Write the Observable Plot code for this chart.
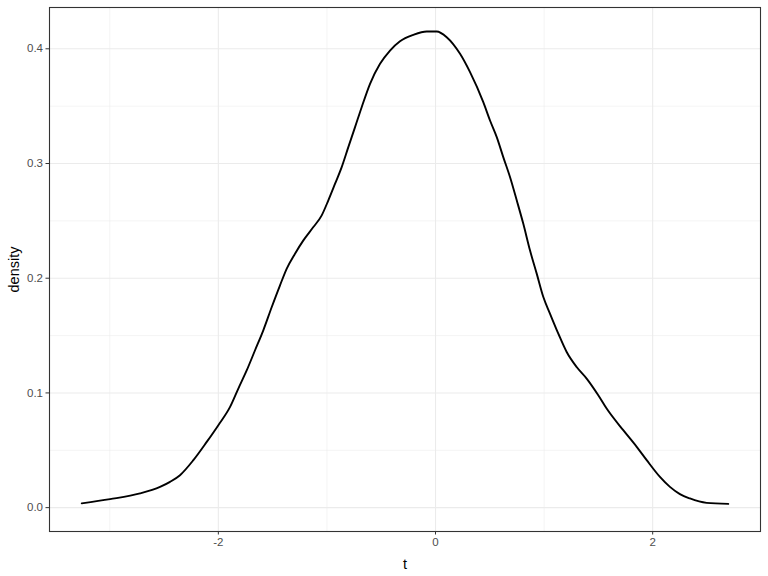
<!DOCTYPE html>
<html>
<head>
<meta charset="utf-8">
<script src="https://cdn.jsdelivr.net/npm/d3@7"></script>
<script src="https://cdn.jsdelivr.net/npm/@observablehq/plot@0.6"></script>
<style>
  html, body { margin: 0; padding: 0; background: #fff; }
  #chart { width: 768px; height: 576px; }
</style>
</head>
<body>
<div id="chart"></div>
<script>
// Density curve points
const tValues = [-3.258, -2.997, -2.721, -2.537, -2.445, -2.353, -2.230, -2.107, -2.000, -1.892,
  -1.816, -1.738, -1.662, -1.586, -1.508, -1.432, -1.370, -1.294, -1.217, -1.125,
  -1.048, -0.987, -0.925, -0.864, -0.803, -0.741, -0.680, -0.603, -0.511, -0.419,
  -0.327, -0.204, -0.081, 0.011, 0.103, 0.226, 0.318, 0.440, 0.502, 0.564,
  0.624, 0.686, 0.748, 0.808, 0.870, 0.932, 0.993, 1.054, 1.131, 1.208,
  1.300, 1.392, 1.499, 1.576, 1.729, 1.853, 1.945, 2.067, 2.159, 2.251,
  2.343, 2.497, 2.696];
const densityValues = [0.0037, 0.0074, 0.0124, 0.0181, 0.0225, 0.0283, 0.0414, 0.0573, 0.0719, 0.0878,
  0.1038, 0.1198, 0.1372, 0.1546, 0.1749, 0.1938, 0.2084, 0.2214, 0.2330, 0.2446,
  0.2548, 0.2679, 0.2824, 0.2969, 0.3143, 0.3317, 0.3491, 0.3695, 0.3869, 0.3985,
  0.4066, 0.4122, 0.4151, 0.4151, 0.4101, 0.3956, 0.3796, 0.3535, 0.3375, 0.3230,
  0.3056, 0.2882, 0.2679, 0.2476, 0.2243, 0.2040, 0.1836, 0.1692, 0.1517, 0.1357,
  0.1226, 0.1125, 0.0980, 0.0864, 0.0675, 0.0530, 0.0414, 0.0268, 0.0181, 0.0118,
  0.0080, 0.0042, 0.0033];

const xTicks = [-2, 0, 2];
const xMinor = [-3, -1, 1];
const yTicks = [0.0, 0.1, 0.2, 0.3, 0.4];
const yMinor = [0.05, 0.15, 0.25, 0.35];

const data = tValues.map((t, i) => ({t, density: densityValues[i]}));

const gridColor = "#ebebeb";
const font = "'Liberation Sans', Arial, sans-serif";

const chart = Plot.plot({
  width: 768,
  height: 576,
  marginLeft: 49,
  marginRight: 8,
  marginTop: 7,
  marginBottom: 45,
  style: { fontFamily: font, background: "#fff" },
  x: { domain: [-3.555, 2.993] },
  y: { domain: [-0.0208, 0.436] },
  marks: [
    Plot.ruleX(xMinor, { stroke: gridColor, strokeWidth: 0.55 }),
    Plot.ruleY(yMinor, { stroke: gridColor, strokeWidth: 0.55 }),
    Plot.ruleX(xTicks, { stroke: gridColor, strokeWidth: 1.1 }),
    Plot.ruleY(yTicks, { stroke: gridColor, strokeWidth: 1.1 }),
    Plot.line(data, { x: "t", y: "density", stroke: "black", strokeWidth: 1.9, curve: "monotone-x" }),
    Plot.frame({ stroke: "#333333", strokeWidth: 1.1 }),
    Plot.axisX(xTicks, {
      tickSize: 3.5, tickPadding: 3, fontSize: 11.5, color: "#4d4d4d", stroke: "#333333",
      tickFormat: d => String(d),
      label: "t", labelAnchor: "center", labelOffset: 37, labelArrow: "none"
    }),
    Plot.axisY(yTicks, {
      tickSize: 3.5, tickPadding: 3, fontSize: 11.5, color: "#4d4d4d", stroke: "#333333",
      tickFormat: d => d.toFixed(1),
      label: "density", labelAnchor: "center", labelOffset: 41, labelArrow: "none"
    })
  ]
});

// Style axis titles black and larger like ggplot
chart.querySelectorAll("g[aria-label='x-axis label'], g[aria-label='y-axis label']").forEach(g => {
  g.setAttribute("fill", "black");
  g.setAttribute("font-size", "14.5");
  g.querySelectorAll("text").forEach(el => { el.setAttribute("fill", "black"); el.style.fontSize = "14.5px"; });
});

document.getElementById("chart").appendChild(chart);
</script>
</body>
</html>
